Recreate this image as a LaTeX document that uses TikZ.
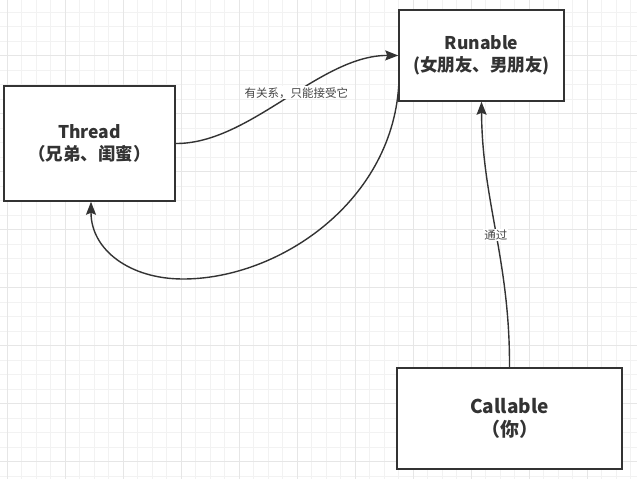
\documentclass[tikz,border=0pt]{standalone}
\usepackage{fontspec}
\setmainfont{Noto Sans CJK SC}
\usetikzlibrary{arrows.meta}
\definecolor{ink}{HTML}{333333}
\definecolor{lbltext}{HTML}{444444}
\definecolor{gridminor}{HTML}{F2F2F2}
\definecolor{gridmajor}{HTML}{E6E6E6}
\tikzset{
  box/.style={draw=ink, line width=1.5pt, fill=white, rectangle, align=center,
    text=ink, font=\fontsize{17.5}{22.5}\selectfont\bfseries, inner sep=0pt},
  conn/.style={draw=ink, line width=1.4pt, -{Stealth[length=13pt,width=10pt,inset=2pt]}},
  lbl/.style={fill=white, text=lbltext, inner sep=1pt, font=\fontsize{11.5}{13}\selectfont},
}
\begin{document}
\begin{tikzpicture}[x=1pt,y=-1pt]
\useasboundingbox (0,0) rectangle (637,479);
\fill[white] (0,0) rectangle (637,479);
% grid
\foreach \x in {7.3,21.8,...,637} \draw[gridminor, line width=0.8pt] (\x,0) -- (\x,479);
\foreach \y in {12.3,26.8,...,479} \draw[gridminor, line width=0.8pt] (0,\y) -- (637,\y);
\foreach \x in {7.3,65.3,...,637} \draw[gridmajor, line width=0.8pt] (\x,0) -- (\x,479);
\foreach \y in {55.8,113.8,...,479} \draw[gridmajor, line width=0.8pt] (0,\y) -- (637,\y);

% boxes
\node[box, minimum width=171pt, minimum height=115pt] (thr) at (89.5,143.5) {\raisebox{-2pt}{Thread}\\\raisebox{-2pt}{（兄弟、闺蜜）}};
\node[box, minimum width=165pt, minimum height=91pt] (run) at (481.5,55.5) {\raisebox{-2pt}{Runable}\\\raisebox{-2pt}{(女朋友、男朋友)}};
\node[box, minimum width=225pt, minimum height=101pt, font=\fontsize{19}{23}\selectfont\bfseries] (cal) at (509.5,418.5) {Callable\\（你）};

% connectors
\draw[conn] (thr.east) .. controls (250,144) and (320,55) .. node[lbl, pos=0.55] {有关系，只能接受它} (run.west);

\coordinate (rs) at (399,80);
\coordinate (lowpt) at (183,279);
\draw[conn] (rs) .. controls (395,200) and (280,279) .. (lowpt)
  .. controls (130,279) and (91,250) .. ([xshift=1.5pt]thr.south);

\draw[conn] (cal.north) .. controls (510,260) and (482,200) .. node[lbl, pos=0.5, yshift=-4pt] {通过} (run.south);
\end{tikzpicture}
\end{document}
